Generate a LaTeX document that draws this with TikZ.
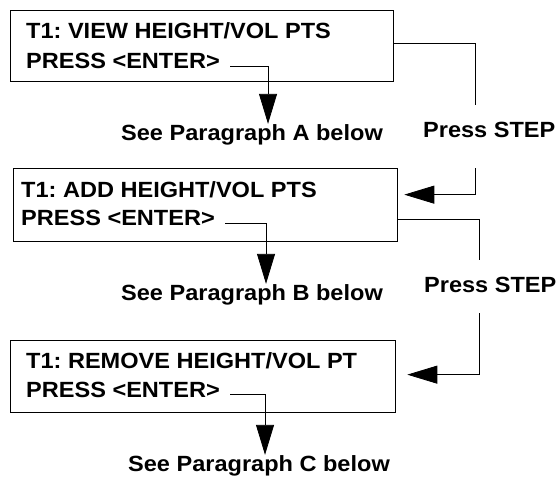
\documentclass[tikz,border=0pt]{standalone}
\usepackage{fontspec}
\setmainfont{Liberation Sans}[FakeStretch=1.07]
\frenchspacing
\usetikzlibrary{arrows.meta}
\usetikzlibrary{positioning}

\tikzset{
  screen/.style={draw, line width=1.3pt, anchor=north west, inner sep=0pt},
  msg/.style={anchor=base west, inner sep=0pt, font=\fontsize{22}{22}\selectfont\bfseries},
  link/.style={line width=0.8pt},
  tiplink/.style={link, -{Triangle[length=30pt,width=18pt]}},
}

\begin{document}
\begin{tikzpicture}[x=1pt, y=-1pt]
\useasboundingbox (0,0) rectangle (560,479);
% display screens
\node[screen, minimum width=383pt, minimum height=71pt] (v1) at (10,10) {};
\node[screen, minimum width=384pt, minimum height=73pt] (v2) at (13,168) {};
\node[screen, minimum width=385pt, minimum height=72pt] (v3) at (10,340) {};
\node[msg] (t1) at (26,38) {T1: VIEW HEIGHT/VOL PTS};
\node[msg] (e1) at (26,68) {PRESS <ENTER>};
\node[msg] (t2) at (21,197) {T1: ADD HEIGHT/VOL PTS};
\node[msg] (e2) at (21,225) {PRESS <ENTER>};
\node[msg] (t3) at (26,368) {T1: REMOVE HEIGHT/VOL PT};
\node[msg] (e3) at (26,397) {PRESS <ENTER>};
% labels
\node[msg] (p1) at (121,140) {See Paragraph A below};
\node[msg] (p2) at (121,300) {See Paragraph B below};
\node[msg] (p3) at (128,471) {See Paragraph C below};
\node[msg] (s1) at (423,137) {Press STEP};
\node[msg] (s2) at (424,292) {Press STEP};
\coordinate (k1) at (475,105);
\coordinate (k2) at (475,168);
\coordinate (k3) at (479,260);
\coordinate (k4) at (479,313);
% enter arrows
\draw[tiplink] ([shift={(10pt,2pt)}]e1.base east) -| ([xshift=16pt]p1.north);
\draw[tiplink] ([shift={(10pt,2pt)}]e2.base east) -| ([xshift=14pt]p2.north);
\draw[tiplink] ([shift={(10pt,3pt)}]e3.base east) -| ([xshift=6pt]p3.north);
% step connectors
\draw[link] ([yshift=2.5pt]v1.east) -| (k1);
\draw[tiplink] (k2) |- ([shift={(6pt,10.5pt)}]v2.east);
\draw[link] ([yshift=-14.5pt]v2.east) -| (k3);
\draw[tiplink] (k4) |- ([shift={(11pt,2pt)}]v3.east);
\end{tikzpicture}
\end{document}
